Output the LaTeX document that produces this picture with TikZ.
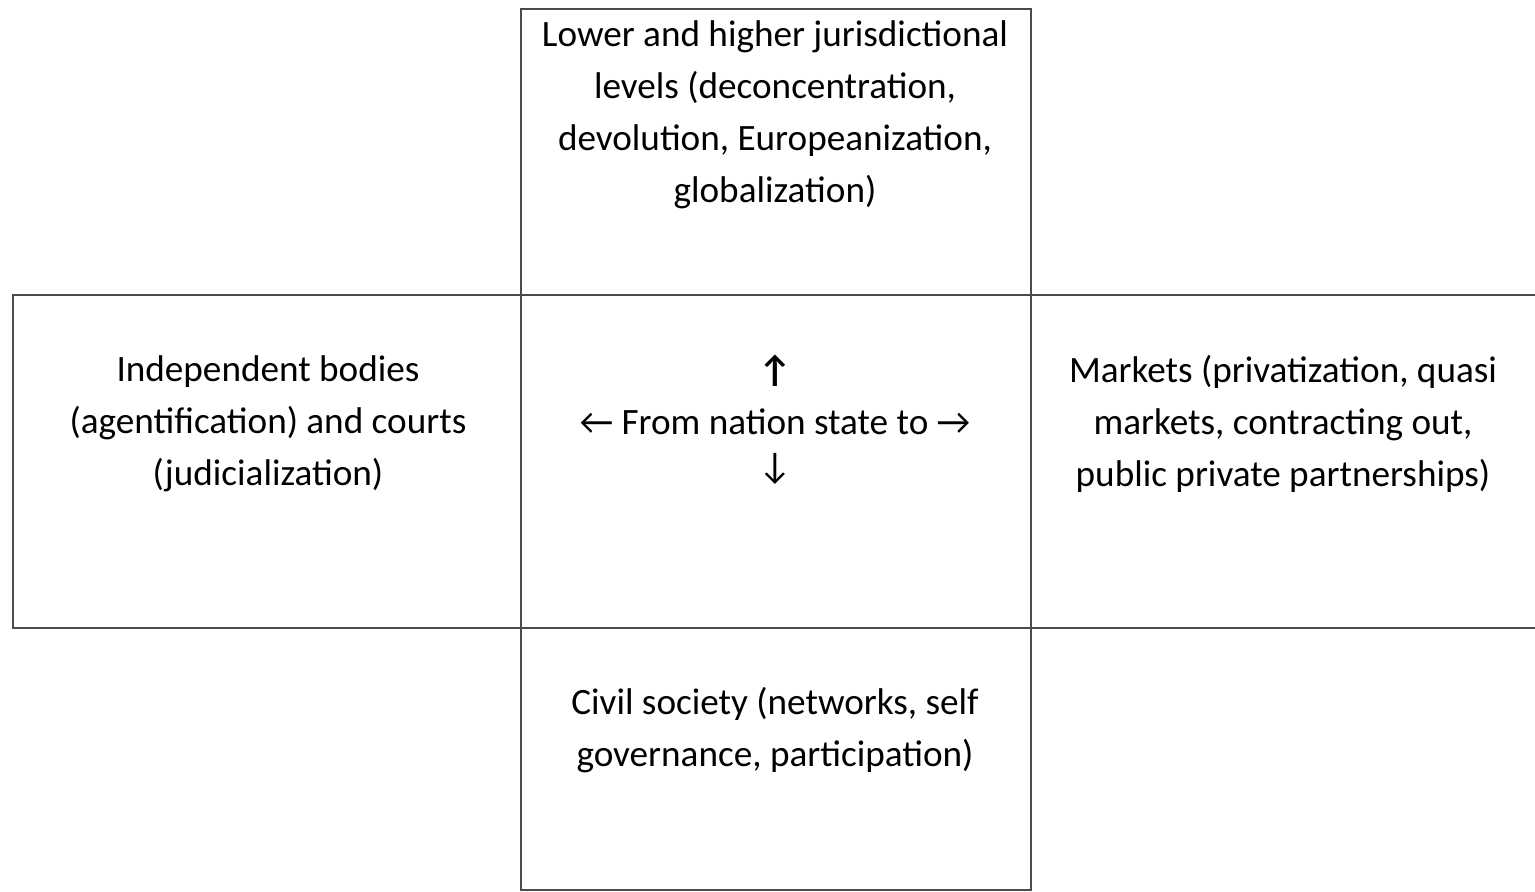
\documentclass[tikz,border=0pt]{standalone}
\usepackage{fontspec}
\setmainfont{Carlito}
\begin{document}
\begin{tikzpicture}[x=0.5pt,y=-0.5pt,
  frame/.style={draw=black!70,line width=1pt,inner sep=0pt,outer sep=0pt,anchor=north west},
  label/.style={font=\fontsize{18.6pt}{26pt}\selectfont,align=center,inner sep=0pt,anchor=north}]
\useasboundingbox[fill=white] (0,0) rectangle (1535,891);
% boxes (sizes in pt: 1px = 0.5pt)
\node[frame,minimum width=255pt,minimum height=143pt] (top) at (521,9) {};
\node[frame,minimum width=254pt,minimum height=166.5pt] (left) at (13,295) {};
\node[frame,minimum width=255pt,minimum height=166.5pt] (mid) at (521,295) {};
\node[frame,minimum width=255pt,minimum height=131pt] (bot) at (521,628) {};
\coordinate (rtop) at (1536,295);
\coordinate (rbot) at (1536,628);
\draw[black!70,line width=1pt] (mid.north east) -- (rtop);
\draw[black!70,line width=1pt] (mid.south east) -- (rbot);
% texts
\node[label] (ttop) at (775,20) {Lower and higher jurisdictional\\levels (deconcentration,\\devolution, Europeanization,\\globalization)};
\node[label] (tleft) at (268,355) {Independent bodies\\(agentification) and courts\\(judicialization)};
\node[label] (tmid) at (775,355) {{\bfseries ↑}\\← From nation state to →\\[-4pt]↓};
\node[label] (tright) at (1283,355) {Markets (privatization, quasi\\markets, contracting out,\\public private partnerships)};
\node[label] (tbot) at (775,687) {Civil society (networks, self\\governance, participation)};
\end{tikzpicture}
\end{document}
